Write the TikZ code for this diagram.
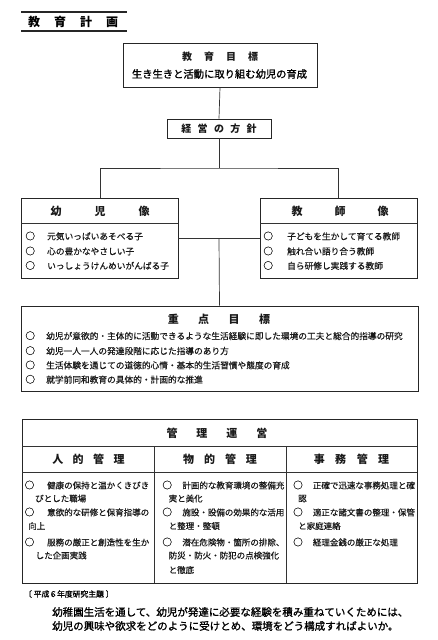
\documentclass[tikz,border=0pt]{standalone}
\usepackage{fontspec}
\setmainfont{Noto Sans CJK JP}
\newfontfamily\itemfont{Noto Sans CJK JP}[FakeBold=0.5]
\newfontfamily\mainfont{Noto Sans CJK JP}[FakeBold=1.2]
\newcommand{\ci}[2]{{\fontsize{9.6}{10}\selectfont ○}\hspace{#1}#2}
\begin{document}
\begin{tikzpicture}[x=1pt,y=-1pt,
  box/.style={draw=black!85, line width=0.9pt, inner sep=0pt, rectangle},
  conn/.style={draw=black!80, line width=0.7pt},
  sep/.style={draw=black!80, line width=0.7pt},
  txt/.style={inner sep=0pt, anchor=west, text=black!90, font=\itemfont\fontsize{8.7}{10}\selectfont},
  ctxt/.style={inner sep=0pt, anchor=west, text=black!90, font=\itemfont\fontsize{8.5}{10}\selectfont},
  hd/.style={inner sep=0pt, text=black!90, font=\fontsize{11}{12}\selectfont\bfseries},
  shd/.style={inner sep=0pt, text=black!90, font=\fontsize{10}{12}\selectfont\bfseries}]
\useasboundingbox (0,0) rectangle (437,640);

% title
\node[inner sep=0pt, anchor=west, font=\fontsize{12}{12}\selectfont\bfseries] (title) at (28,22) {教\hspace{14pt}育\hspace{14pt}計\hspace{14pt}画};
\draw[line width=1.1pt, black!85] (21,12) -- (127,12);
\draw[line width=1.1pt, black!85] (21,31) -- (127,31);

% goal box
\node[box, minimum width=194pt, minimum height=44pt] (goal) at (220,65) {};
\node[shd] (goalh) at (220,57) {教\hspace{12pt}育\hspace{12pt}目\hspace{12pt}標};
\node[inner sep=0pt, font=\mainfont\fontsize{10.3}{12}\selectfont] (goalt) at (219.5,74) {生き生きと活動に取り組む幼児の育成};

% policy box
\node[box, minimum width=104pt, minimum height=19pt] (policy) at (219,128.5) {};
\node[shd] (policyt) at (219,128.5) {経\hspace{6.3pt}営\hspace{6.3pt}の\hspace{6.3pt}方\hspace{6.3pt}針};

% child / teacher boxes
\node[box, minimum width=157pt, minimum height=80pt] (child) at (99.5,238) {};
\node[box, minimum width=157pt, minimum height=80pt] (teacher) at (338.5,238) {};
\draw[sep] (21,223) -- (178,223);
\draw[sep] (260,223) -- (417,223);
\node[hd] (childh) at (100,211) {幼\hspace{33pt}児\hspace{33pt}像};
\node[hd] (teacherh) at (340,211) {教\hspace{32pt}師\hspace{32pt}像};
\node[txt] (c1) at (25.2,236) {\ci{12.2pt}{元気いっぱいあそべる子}};
\node[txt] (c2) at (25.2,251) {\ci{12.2pt}{心の豊かなやさしい子}};
\node[txt] (c3) at (25.2,265.5) {\ci{12.2pt}{いっしょうけんめいがんばる子}};
\node[txt] (t1) at (263.2,236) {\ci{14.2pt}{子どもを生かして育てる教師}};
\node[txt] (t2) at (263.2,251) {\ci{14.2pt}{触れ合い語り合う教師}};
\node[txt] (t3) at (263.2,265.5) {\ci{14.2pt}{自ら研修し実践する教師}};

% focus box
\node[box, minimum width=397pt, minimum height=85pt] (focus) at (219.5,348.5) {};
\node[hd] (focush) at (219,319.5) {重\hspace{19.5pt}点\hspace{19.5pt}目\hspace{19.5pt}標};
\node[txt] (f1) at (25.2,335.7) {\ci{11.2pt}{幼児が意欲的・主体的に活動できるような生活経験に即した環境の工夫と総合的指導の研究}};
\node[txt] (f2) at (25.2,350.7) {\ci{11.2pt}{幼児一人一人の発達段階に応じた指導のあり方}};
\node[txt] (f3) at (25.2,365) {\ci{11.2pt}{生活体験を通じての道徳的心情・基本的生活習慣や態度の育成}};
\node[txt] (f4) at (25.2,379.3) {\ci{11.2pt}{就学前同和教育の具体的・計画的な推進}};

% connectors
\coordinate (br) at (219,168);
\coordinate (mid) at (219,238);
\draw[conn] (goal.south) -- (policy.north);
\draw[conn] (policy.south) -- (br);
\draw[conn] (child.north -| 100,0) |- (br) -| (teacher.north -| 338,0);
\draw[conn] (child.east) -- (teacher.west);
\draw[conn] (mid) -- (focus.north);

% management box
\node[box, minimum width=395pt, minimum height=164pt] (mgmt) at (219.5,501) {};
\draw[sep] (22,446) -- (417,446);
\draw[sep] (22,472) -- (417,472);
\draw[sep] (154,446) -- (154,583);
\draw[sep] (286,446) -- (286,583);
\node[hd] (mgmth) at (217,433.3) {管\hspace{19pt}理\hspace{19pt}運\hspace{19pt}営};
\node[hd] (col1h) at (88.5,459.3) {人\hspace{9.5pt}的\hspace{9.5pt}管\hspace{9.5pt}理};
\node[hd] (col2h) at (220,459.3) {物\hspace{10pt}的\hspace{10pt}管\hspace{10pt}理};
\node[hd] (col3h) at (351.5,459.3) {事\hspace{10.5pt}務\hspace{10.5pt}管\hspace{10.5pt}理};

\node[ctxt] (a1) at (24.5,485) {\ci{12.9pt}{健康の保持と温かくきびき}};
\node[ctxt] (a1b) at (35,498.5) {びとした職場};
\node[ctxt] (a2) at (24.5,512) {\ci{12.9pt}{意欲的な研修と保育指導の}};
\node[ctxt] (a2b) at (28,526) {向上};
\node[ctxt] (a3) at (24.5,542) {\ci{12.9pt}{服務の厳正と創造性を生か}};
\node[ctxt] (a3b) at (35.5,555.5) {した企画実践};

\node[ctxt] (b1) at (162.2,485) {\ci{10.4pt}{計画的な教育環境の整備充}};
\node[ctxt] (b1b) at (168.5,498.5) {実と美化};
\node[ctxt] (b2) at (162.2,512) {\ci{10.4pt}{施設・設備の効果的な活用}};
\node[ctxt] (b2b) at (168.5,526) {と整理・整頓};
\node[ctxt] (b3) at (162.2,542) {\ci{10.4pt}{潜在危険物・箇所の排除、}};
\node[ctxt] (b3b) at (168.5,555.5) {防災・防火・防犯の点検強化};
\node[ctxt] (b3c) at (168.5,570) {と徹底};

\node[ctxt] (d1) at (293,485) {\ci{10.1pt}{正確で迅速な事務処理と確}};
\node[ctxt] (d1b) at (298,498.5) {認};
\node[ctxt] (d2) at (293,512) {\ci{10.1pt}{適正な諸文書の整理・保管}};
\node[ctxt] (d2b) at (298,526) {と家庭連絡};
\node[ctxt] (d3) at (293,542) {\ci{10.1pt}{経理金銭の厳正な処理}};

% research theme
\node[inner sep=0pt, anchor=west, font=\mainfont\fontsize{7.8}{9}\selectfont] (cap) at (24,594) {〔 平成６年度研究主題 〕};
\node[inner sep=0pt, anchor=west, font=\mainfont\fontsize{10.5}{12}\selectfont] (m1) at (52,612) {幼稚園生活を通して、幼児が発達に必要な経験を積み重ねていくためには、};
\node[inner sep=0pt, anchor=west, font=\mainfont\fontsize{10.5}{12}\selectfont] (m2) at (52,626) {幼児の興味や欲求をどのように受けとめ、環境をどう構成すればよいか。};
\end{tikzpicture}
\end{document}
